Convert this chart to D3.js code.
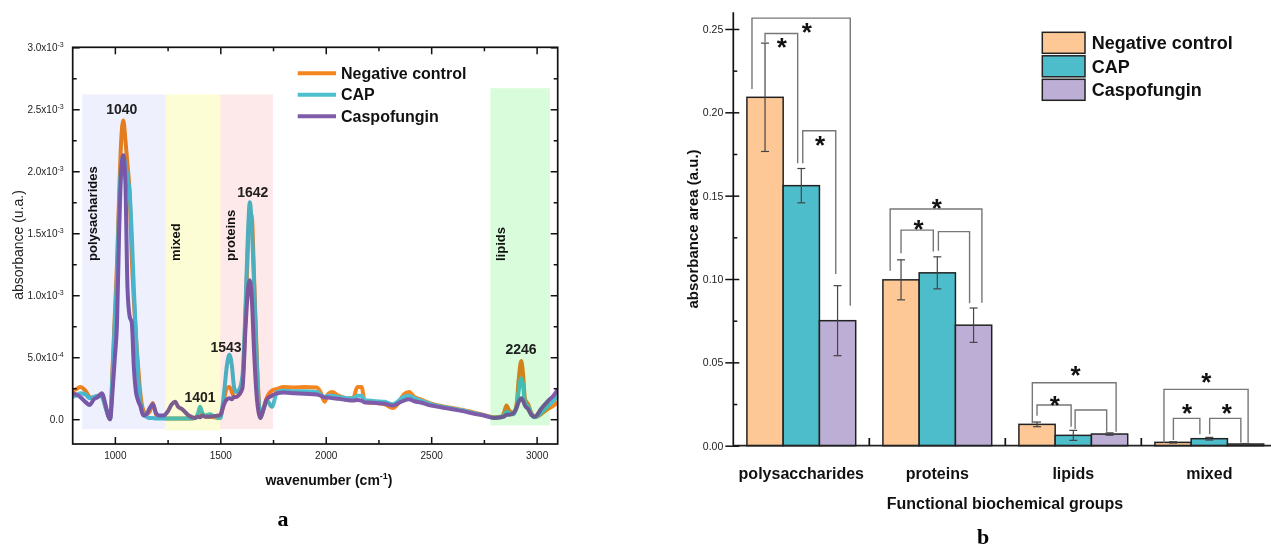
<!DOCTYPE html>
<html>
<head>
<meta charset="utf-8">
<script src="https://cdn.jsdelivr.net/npm/d3@7"></script>
<style>
body { margin: 0; background: #fff; }
svg { font-family: Arial, "Liberation Sans", sans-serif; }
</style>
</head>
<body>
<svg id="chart" width="1271" height="549"></svg>
<script>
// ---------- panel a : FTIR spectra (absorbance in units of 1e-4) ----------
var wavenumber = [
  800, 815, 835, 860, 880, 900, 920, 938, 955, 968,
  977, 990, 1000, 1010, 1020, 1030, 1040, 1050, 1060, 1070,
  1080, 1090, 1100, 1110, 1120, 1135, 1150, 1165, 1180, 1195,
  1210, 1230, 1250, 1270, 1286, 1300, 1320, 1350, 1380, 1395,
  1404, 1415, 1430, 1450, 1470, 1490, 1500, 1510, 1520, 1531,
  1543, 1555, 1565, 1575, 1590, 1605, 1620, 1630, 1640, 1650,
  1660, 1670, 1680, 1690, 1705, 1720, 1745, 1770, 1800, 1850,
  1900, 1958, 1975, 1995, 2010, 2030, 2060, 2100, 2130, 2150,
  2170, 2185, 2200, 2240, 2280, 2318, 2340, 2370, 2395, 2420,
  2450, 2500, 2550, 2600, 2650, 2700, 2750, 2800, 2830, 2845,
  2857, 2870, 2890, 2905, 2915, 2927, 2935, 2945, 2960, 2975,
  2990, 3000, 3020, 3050, 3080, 3100];
var negControl = [
  2.3, 2.4, 2.6, 2.3, 1.8, 1.7, 1.9, 1.9, 1.0, 0.3,
  0.0, 4.5, 8.5, 12.5, 18.0, 22.5, 24.1, 22.5, 20.5, 18.3,
  13.1, 9.6, 6.6, 4.3, 2.2, 0.7, 0.4, 0.6, 1.3, 0.4,
  0.1, 0.1, 0.05, 0.05, 0.05, 0.05, 0.05, 0.05, 0.1, 0.3,
  0.5, 0.3, 0.2, 0.2, 0.15, 0.1, 0.2, 0.8, 1.8, 2.5,
  2.6, 2.2, 1.8, 1.8, 2.0, 3.0, 8.5, 13.5, 16.8, 16.2,
  11.5, 6.5, 2.2, 0.3, 0.9, 1.7, 2.3, 2.45, 2.6, 2.55,
  2.6, 2.55, 2.2, 1.4, 2.0, 2.2, 1.9, 1.7, 1.7, 2.6,
  2.6, 1.4, 1.35, 1.3, 1.2, 0.9, 1.2, 2.0, 2.2, 1.8,
  1.6, 1.25, 1.05, 0.9, 0.75, 0.55, 0.35, 0.15, 0.2, 0.5,
  1.1, 0.7, 0.5, 1.2, 3.2, 4.7, 3.8, 1.6, 1.2, 0.5,
  0.2, 0.2, 0.4, 0.8, 1.1, 1.4];
var capTreated = [
  1.8, 1.9, 2.1, 2.0, 1.7, 1.8, 1.9, 1.8, 1.0, 0.3,
  0.0, 4.0, 8.0, 11.5, 17.0, 20.5, 21.2, 20.5, 19.5, 18.3,
  15.0, 10.5, 6.8, 3.5, 1.5, 0.4, 0.2, 0.1, 0.1, 0.05,
  0.05, 0.05, 0.05, 0.05, 0.05, 0.05, 0.05, 0.05, 0.1, 0.5,
  1.0, 0.5, 0.3, 0.4, 0.25, 0.1, 0.1, 1.0, 2.5, 4.3,
  5.2, 4.3, 2.6, 2.2, 2.4, 3.5, 9.3, 14.5, 17.5, 15.3,
  11.0, 6.0, 2.0, 0.1, 0.8, 1.5, 1.0, 2.2, 2.3, 2.25,
  2.25, 2.2, 2.0, 1.8, 1.9, 1.9, 1.8, 1.7, 1.7, 1.9,
  1.9, 1.5, 1.5, 1.45, 1.4, 1.2, 1.4, 1.8, 1.9, 1.7,
  1.5, 1.2, 1.0, 0.85, 0.7, 0.5, 0.32, 0.12, 0.15, 0.3,
  0.6, 0.5, 0.4, 1.0, 2.3, 3.3, 2.8, 1.3, 1.0, 0.4,
  0.15, 0.2, 0.5, 1.0, 1.5, 1.9];
var caspofungin = [
  2.1, 2.0, 1.8, 1.4, 1.15, 1.6, 1.8, 2.1, 1.2, 0.3,
  0.0, 2.5, 5.0, 7.7, 15.0, 20.0, 21.3, 19.0, 10.5, 8.3,
  7.8, 4.2, 2.2, 1.5, 1.1, 0.3, 0.4, 0.9, 1.2, 0.5,
  0.3, 0.3, 0.6, 1.2, 1.4, 1.0, 0.8, 0.3, 0.1, 0.2,
  0.15, 0.3, 0.2, 0.2, 0.25, 0.3, 0.35, 0.8, 1.3, 1.6,
  1.7, 1.6, 1.8, 1.8, 2.0, 2.5, 7.5, 10.2, 11.2, 9.5,
  5.5, 2.4, 0.7, 0.1, 0.8, 1.6, 1.9, 2.1, 2.15, 2.1,
  2.05, 2.0, 1.9, 1.75, 1.75, 1.7, 1.65, 1.55, 1.5, 1.55,
  1.5, 1.35, 1.35, 1.3, 1.25, 1.1, 1.25, 1.5, 1.6, 1.45,
  1.35, 1.1, 0.95, 0.8, 0.65, 0.45, 0.3, 0.1, 0.15, 0.2,
  0.35, 0.35, 0.5, 0.9, 1.4, 1.7, 1.5, 1.1, 0.8, 0.35,
  0.2, 0.3, 0.8, 1.4, 1.9, 2.4];

var spectraNames = ["Negative control", "CAP", "Caspofungin"];
var regionNames = ["polysacharides", "mixed", "proteins", "lipids"];
var regionFrom = [845, 1240, 1500, 2781];
var regionTo = [1240, 1500, 1750, 3063];
var regionTop = [26.2, 26.2, 26.2, 26.7];
var regionBottom = [-0.8, -0.9, -0.8, -0.5];
var peakLabels = ["1040", "1401", "1543", "1642", "2246"];
var peakAt = [1033, 1404, 1527, 1654, 2926];
var peakLevel = [24.6, 1.35, 5.4, 17.9, 5.3];
var yTicksA = [0, 5, 10, 15, 20, 25, 30];
var xTicksA = [1000, 1500, 2000, 2500, 3000];

// ---------- panel b : absorbance areas ----------
var groups = ["polysaccharides", "proteins", "lipids", "mixed"];
var treatments = ["Negative control", "CAP", "Caspofungin"];
var areaNeg = [0.209, 0.0995, 0.0128, 0.0020];
var areaCap = [0.156, 0.1037, 0.0062, 0.0042];
var areaCasp = [0.075, 0.0723, 0.0070, 0.0010];
var errNeg = [0.0325, 0.012, 0.0014, 0.0004];
var errCap = [0.0103, 0.0096, 0.003, 0.0008];
var errCasp = [0.021, 0.0103, 0.0007, 0.0003];
var yTicksB = [0, 0.05, 0.10, 0.15, 0.20, 0.25];

// significance brackets (ends in bar widths from group start)
var bracketGroup = [0, 0, 0, 1, 1, 1, 2, 2, 2, 3, 3, 3];
var bracketFrom = [0.14, 0.5, 1.54, 0.2, 0.5, 1.53, 0.37, 0.5, 1.55, 0.25, 0.51, 1.51];
var bracketTo = [2.85, 1.4, 2.45, 2.73, 1.39, 2.39, 2.68, 1.44, 2.42, 2.57, 1.24, 2.37];
var bracketTop = [0.2565, 0.2473, 0.1889, 0.142, 0.1293, 0.1284, 0.0378, 0.0244, 0.0214, 0.0338, 0.0164, 0.0164];
var bracketLeftEnd = [0.214, 0.2421, 0.1695, 0.105, 0.1155, 0.117, 0.0134, 0.018, 0.010, 0.0018, 0.0034, 0.0068];
var bracketRightEnd = [0.084, 0.1695, 0.103, 0.0858, 0.1165, 0.0855, 0.0084, 0.0114, 0.0084, 0.0018, 0.0068, 0.0018];
var starAt = [1.65, 0.96, 2.02, 1.49, 0.98, null, 1.56, 0.99, null, 1.42, 0.89, 1.98];
var starLevel = [0.2515, 0.2425, 0.1839, 0.1459, 0.1331, null, 0.046, 0.0279, null, 0.0414, 0.023, 0.023];

var lineColors = ["#f5851f", "#4dbfcf", "#7f5ca9"];
var barColors = ["#fdc896", "#4dbdcc", "#bdaed5"];
var regionColors = ["#eef0fd", "#fdfdd5", "#fde9ea", "#d9fcdb"];

var svg = d3.select("#chart");

// =================== panel a ===================
var xA = d3.scaleLinear().domain([800, 3100]).range([72.7, 557.7]);
var yA = d3.scaleLinear().domain([-2, 30]).range([444, 47.3]);

svg.append("clipPath").attr("id", "clipA")
  .append("rect").attr("x", 72.7).attr("y", 47.3).attr("width", 485).attr("height", 396.7);

var series = [negControl, capTreated, caspofungin];
var line = d3.line()
  .x(function (d, i) { return xA(wavenumber[i]); })
  .y(function (d) { return yA(d); })
  .curve(d3.curveMonotoneX);

var gLines = svg.append("g").attr("clip-path", "url(#clipA)");
series.forEach(function (s, k) {
  gLines.append("path")
    .attr("d", line(s))
    .attr("fill", "none")
    .attr("stroke", lineColors[k])
    .attr("stroke-width", 4)
    .attr("stroke-linejoin", "round");
});

// peak labels
peakLabels.forEach(function (t, i) {
  svg.append("text")
    .attr("x", xA(peakAt[i]))
    .attr("y", yA(peakLevel[i]))
    .attr("text-anchor", "middle")
    .attr("font-size", 14)
    .attr("font-weight", "bold")
    .attr("fill", "#222")
    .text(t);
});

// region labels (rotated)
regionNames.forEach(function (t, i) {
  var x = xA(regionFrom[i]) + 14.5;
  svg.append("text")
    .attr("transform", "translate(" + x + ",261) rotate(-90)")
    .attr("font-size", 13)
    .attr("font-weight", "bold")
    .attr("fill", "#111")
    .text(t);
});

// shaded regions drawn over the spectra (multiply)
regionNames.forEach(function (t, i) {
  svg.append("rect")
    .attr("x", xA(regionFrom[i]))
    .attr("y", yA(regionTop[i]))
    .attr("width", xA(regionTo[i]) - xA(regionFrom[i]))
    .attr("height", yA(regionBottom[i]) - yA(regionTop[i]))
    .attr("fill", regionColors[i])
    .style("mix-blend-mode", "multiply");
});

// axes, all ticks inward
function minorTicks(lo, hi, step) {
  var out = [];
  for (var v = lo; v <= hi + 1e-9; v += step) out.push(v);
  return out;
}
var yMinorA = minorTicks(2.5, 27.5, 5);
var xMinorA = minorTicks(1250, 2750, 500);

function fmtA(sel) {
  sel.selectAll(".tick text").each(function (d) {
    var t = d3.select(this).text("");
    if (d === 0) { t.text("0.0"); return; }
    var e = d >= 10 ? -3 : -4;
    var m = d >= 10 ? d / 10 : d;
    t.append("tspan").text(m.toFixed(1) + "x10");
    t.append("tspan").attr("font-size", 7).attr("dy", -4).text(e);
  });
}

var gy = svg.append("g").attr("transform", "translate(72.7,0)")
  .call(d3.axisLeft(yA).tickValues(yTicksA).tickSize(-7).tickSizeOuter(0).tickPadding(9));
gy.call(fmtA);
svg.append("g").attr("transform", "translate(72.7,0)")
  .call(d3.axisLeft(yA).tickValues(yMinorA).tickSize(-4).tickFormat(""));
svg.append("g").attr("transform", "translate(557.7,0)")
  .call(d3.axisRight(yA).tickValues(yTicksA).tickSize(-7).tickFormat(""));
svg.append("g").attr("transform", "translate(557.7,0)")
  .call(d3.axisRight(yA).tickValues(yMinorA).tickSize(-4).tickFormat(""));
svg.append("g").attr("transform", "translate(0,444)")
  .call(d3.axisBottom(xA).tickValues(xTicksA).tickSize(-7).tickSizeOuter(0).tickPadding(8)
    .tickFormat(d3.format("d")));
svg.append("g").attr("transform", "translate(0,444)")
  .call(d3.axisBottom(xA).tickValues(xMinorA).tickSize(-4).tickFormat(""));
svg.append("g").attr("transform", "translate(0,47.3)")
  .call(d3.axisTop(xA).tickValues(xTicksA).tickSize(-7).tickFormat(""));
svg.append("g").attr("transform", "translate(0,47.3)")
  .call(d3.axisTop(xA).tickValues(xMinorA).tickSize(-4).tickFormat(""));

svg.selectAll(".domain").remove();
svg.selectAll(".tick line").attr("stroke", "#111").attr("stroke-width", 1.5);
svg.selectAll(".tick text").attr("font-size", 10).attr("fill", "#222")
  .attr("font-family", "Arial, 'Liberation Sans', sans-serif");

svg.append("rect")
  .attr("x", 72.7).attr("y", 47.3).attr("width", 485).attr("height", 396.7)
  .attr("fill", "none").attr("stroke", "#111").attr("stroke-width", 1.7);

// axis titles
svg.append("text")
  .attr("transform", "translate(23,245) rotate(-90)")
  .attr("text-anchor", "middle").attr("font-size", 14).attr("fill", "#222")
  .text("absorbance (u.a.)");
var xt = svg.append("text")
  .attr("x", 329).attr("y", 485)
  .attr("text-anchor", "middle").attr("font-size", 14).attr("font-weight", "bold").attr("fill", "#111");
xt.append("tspan").text("wavenumber (cm");
xt.append("tspan").attr("font-size", 9).attr("dy", -6).text("-1");
xt.append("tspan").attr("dy", 6).text(")");

// legend a
spectraNames.forEach(function (n, i) {
  var y = 73.3 + i * 21.5;
  svg.append("line")
    .attr("x1", 297.7).attr("x2", 336).attr("y1", y).attr("y2", y)
    .attr("stroke", lineColors[i]).attr("stroke-width", 4);
  svg.append("text")
    .attr("x", 341).attr("y", y + 5.5)
    .attr("font-size", 16).attr("font-weight", "bold").attr("fill", "#111")
    .text(n);
});

svg.append("text")
  .attr("x", 283).attr("y", 526)
  .attr("text-anchor", "middle").attr("font-size", 22).attr("font-weight", "bold")
  .attr("font-family", "'Liberation Serif', 'DejaVu Serif', serif")
  .text("a");

// =================== panel b ===================
var yB = d3.scaleLinear().domain([0, 0.26]).range([445.7, 12.3]);
var xB = d3.scaleBand().domain(groups).range([733.3, 1277.3]).paddingInner(0.2).paddingOuter(0.1);
var xSub = d3.scaleBand().domain(treatments).range([0, xB.bandwidth()]);
var bw = xSub.bandwidth();

var areas = [areaNeg, areaCap, areaCasp];
var errs = [errNeg, errCap, errCasp];

var gB = svg.append("g");
groups.forEach(function (g, gi) {
  treatments.forEach(function (t, ti) {
    var x0 = xB(g) + xSub(t);
    var v = areas[ti][gi];
    gB.append("rect")
      .attr("x", x0).attr("y", yB(v))
      .attr("width", bw).attr("height", yB(0) - yB(v))
      .attr("fill", barColors[ti]).attr("stroke", "#222").attr("stroke-width", 1.5);
  });
});

// error bars
groups.forEach(function (g, gi) {
  treatments.forEach(function (t, ti) {
    var cx = xB(g) + xSub(t) + bw / 2;
    var v = areas[ti][gi], e = errs[ti][gi];
    var eg = gB.append("g").attr("stroke", "#444").attr("stroke-width", 1.2);
    eg.append("line").attr("x1", cx).attr("x2", cx).attr("y1", yB(v - e)).attr("y2", yB(v + e));
    eg.append("line").attr("x1", cx - 4).attr("x2", cx + 4).attr("y1", yB(v - e)).attr("y2", yB(v - e));
    eg.append("line").attr("x1", cx - 4).attr("x2", cx + 4).attr("y1", yB(v + e)).attr("y2", yB(v + e));
  });
});

// significance brackets
bracketGroup.forEach(function (gi, i) {
  var gx = xB(groups[gi]);
  var x1 = gx + bracketFrom[i] * bw, x2 = gx + bracketTo[i] * bw;
  gB.append("path")
    .attr("d", "M" + x1 + "," + yB(bracketLeftEnd[i]) + "V" + yB(bracketTop[i]) +
      "H" + x2 + "V" + yB(bracketRightEnd[i]))
    .attr("fill", "none").attr("stroke", "#777").attr("stroke-width", 1.4);
  if (starAt[i] !== null) {
    gB.append("text")
      .attr("x", gx + starAt[i] * bw)
      .attr("y", yB(starLevel[i]) + 0.56 * 26)
      .attr("text-anchor", "middle")
      .attr("font-size", 26).attr("font-weight", "bold").attr("fill", "#111")
      .text("*");
  }
});

// axes b
svg.append("line").attr("x1", 733.3).attr("x2", 733.3).attr("y1", 12.3).attr("y2", 445.7)
  .attr("stroke", "#111").attr("stroke-width", 1.7);
svg.append("line").attr("x1", 733.3).attr("x2", 1271).attr("y1", 445.7).attr("y2", 445.7)
  .attr("stroke", "#222").attr("stroke-width", 1.7);

var gyB = svg.append("g").attr("transform", "translate(733.3,0)")
  .call(d3.axisLeft(yB).tickValues(yTicksB).tickSize(8).tickPadding(2).tickFormat(d3.format(".2f")));
gyB.select(".domain").remove();
gyB.selectAll(".tick line").attr("x1", 6).attr("stroke", "#111").attr("stroke-width", 1.5);
gyB.selectAll(".tick text").attr("font-size", 10.5).attr("fill", "#222");
var gyBm = svg.append("g").attr("transform", "translate(733.3,0)")
  .call(d3.axisRight(yB).tickValues(minorTicks(0.025, 0.225, 0.05)).tickSize(4).tickFormat(""));
gyBm.select(".domain").remove();
gyBm.selectAll(".tick line").attr("stroke", "#111").attr("stroke-width", 1.5);

// group separators and labels
var gxB = svg.append("g").attr("transform", "translate(0,445.7)")
  .call(d3.axisBottom(xB).tickSize(0).tickPadding(22));
gxB.select(".domain").remove();
gxB.selectAll(".tick text").attr("font-size", 16).attr("font-weight", "bold").attr("fill", "#111");
groups.slice(1).forEach(function (g) {
  var sx = xB(g) - xB.step() * xB.paddingInner() / 2;
  svg.append("line").attr("x1", sx).attr("x2", sx).attr("y1", 445.7).attr("y2", 438)
    .attr("stroke", "#111").attr("stroke-width", 1.7);
});

svg.append("text")
  .attr("transform", "translate(698,229) rotate(-90)")
  .attr("text-anchor", "middle").attr("font-size", 15).attr("font-weight", "bold").attr("fill", "#111")
  .text("absorbance area (a.u.)");
svg.append("text")
  .attr("x", 1005).attr("y", 509)
  .attr("text-anchor", "middle").attr("font-size", 16).attr("font-weight", "bold").attr("fill", "#111")
  .text("Functional biochemical groups");

// legend b
treatments.forEach(function (n, i) {
  var y = 32.3 + i * 23.5;
  svg.append("rect")
    .attr("x", 1042.3).attr("y", y).attr("width", 42.7).attr("height", 21)
    .attr("fill", barColors[i]).attr("stroke", "#222").attr("stroke-width", 1.5);
  svg.append("text")
    .attr("x", 1091.7).attr("y", y + 17)
    .attr("font-size", 18).attr("font-weight", "bold").attr("fill", "#111")
    .text(n);
});

svg.append("text")
  .attr("x", 983).attr("y", 544)
  .attr("text-anchor", "middle").attr("font-size", 22).attr("font-weight", "bold")
  .attr("font-family", "'Liberation Serif', 'DejaVu Serif', serif")
  .text("b");
</script>
</body>
</html>
